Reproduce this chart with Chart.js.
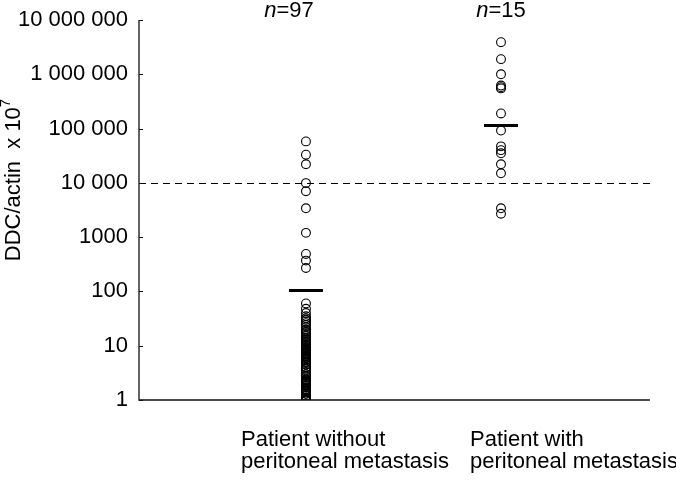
<!DOCTYPE html>
<html>
<head>
<meta charset="utf-8">
<script src="https://cdn.jsdelivr.net/npm/chart.js@4/dist/chart.umd.min.js"></script>
<style>
html,body{margin:0;padding:0;background:#fff;}
#wrap{width:676px;height:481px;position:relative;}
</style>
</head>
<body>
<div id="wrap"><canvas id="dotChart"></canvas></div>
<script>
// groups (x position on the hidden linear axis)
const groupPos=[1,2];
const groupNames=[['Patient without','peritoneal metastasis'],['Patient with','peritoneal metastasis']];
const groupN=['97','15'];

// DDC/actin x 10^7
const withoutMet=[58000,33000,22000,9900,7000,3400,1200,490,370,270,
  60,48,40,35,32,30,28,26,24,22,
  20,19,18,17,16,15,14,13,12.5,12,
  11.5,11,10.5,10,10,9.5,9,9,8.5,8,
  8,7.5,7,7,6.5,6.5,6,6,6,5.8,
  5.5,5.5,5,5,5,4.5,4.5,4,4,3.8,
  3.5,3.3,3,3,2.8,2.6,2.4,2.3,2.3,2.2,
  2.2,2.2,2.1,2.1,2,2,1.9,1.8,1.7,1.6,
  1.5,1.5,1.4,1.4,1.3,1.3,1.2,1.2,1.1,1.1,
  1.05,1.05,1,1,1,1,1];
const withMet=[3900000,1900000,1000000,620000,580000,550000,190000,92000,47000,40000,35000,22000,15000,3400,2700];
const medians=[104,114000];
const cutoff=10000;

const yTickValues=[1,10,100,1000,10000,100000,1000000,10000000];
const yTickLabels=['1','10','100','1000','10 000','100 000','1 000 000','10 000 000'];

const FONT='"Liberation Sans", Arial, Helvetica, sans-serif';

const extras={
  id:'extras',
  afterDatasetsDraw(chart){
    const c=chart.ctx, a=chart.chartArea, y=chart.scales.y, x=chart.scales.x;
    c.save();
    // dashed cut-off
    c.strokeStyle='#000';c.lineWidth=1;c.setLineDash([7,5]);
    const yc=Math.round(y.getPixelForValue(cutoff))+0.5;
    c.beginPath();c.moveTo(a.left,yc);c.lineTo(a.right,yc);c.stroke();
    c.setLineDash([]);
    // axes
    c.lineWidth=1.3;c.strokeStyle='#111';
    c.beginPath();c.moveTo(a.left,a.top);c.lineTo(a.left,a.bottom);c.lineTo(a.right,a.bottom);c.stroke();
    // inward ticks
    c.lineWidth=1;
    yTickValues.forEach(v=>{const p=Math.round(y.getPixelForValue(v))+0.5;c.beginPath();c.moveTo(a.left,p);c.lineTo(a.left+4,p);c.stroke();});
    // n labels
    c.fillStyle='#000';c.textBaseline='alphabetic';
    const nOff=[-17,0];
    groupPos.forEach((g,i)=>{
      const cx=x.getPixelForValue(g)+nOff[i];
      c.font='italic 22px '+FONT;const w1=c.measureText('n').width;
      c.font='22px '+FONT;const w2=c.measureText('='+groupN[i]).width;
      const sx=cx-(w1+w2)/2;
      c.font='italic 22px '+FONT;c.textAlign='left';c.fillText('n',sx,17);
      c.font='22px '+FONT;c.fillText('='+groupN[i],sx+w1,17);
    });
    // group labels
    const labelLeft=[241,470];
    c.font='22px '+FONT;c.textAlign='left';
    groupNames.forEach((lines,i)=>{lines.forEach((t,j)=>c.fillText(t,labelLeft[i],446+j*22));});
    // y title with superscript
    c.translate(20,180);c.rotate(-Math.PI/2);
    const main='DDC/actin  x 10';
    c.font='22px '+FONT;const mw=c.measureText(main).width;
    c.font='15px '+FONT;const sw=c.measureText('7').width;
    const st=-(mw+sw)/2;
    c.font='22px '+FONT;c.fillText(main,st,0);
    c.font='15px '+FONT;c.fillText('7',st+mw,-10);
    c.restore();
  }
};

const circle={pointStyle:'circle',pointRadius:4.4,pointHoverRadius:4.4,pointBorderWidth:1.1,pointBorderColor:'#000',pointBackgroundColor:'rgba(0,0,0,0)',showLine:false};

new Chart(document.getElementById('dotChart'),{
  type:'scatter',
  data:{datasets:[
    Object.assign({label:'without',data:withoutMet.map(v=>({x:groupPos[0],y:v}))},circle),
    Object.assign({label:'with',data:withMet.map(v=>({x:groupPos[1],y:v}))},circle),
    {label:'median',data:medians.map((v,i)=>({x:groupPos[i],y:v})),pointStyle:'line',pointRadius:17,pointHoverRadius:17,pointBorderWidth:3,pointBorderColor:'#000',showLine:false}
  ]},
  options:{
    responsive:true,maintainAspectRatio:false,animation:false,
    layout:{padding:{left:0,right:26,top:18,bottom:81}},
    plugins:{legend:{display:false},tooltip:{enabled:false}},
    scales:{
      x:{type:'linear',display:false,min:0.144,max:2.764},
      y:{type:'logarithmic',min:1,max:10000000,
        afterBuildTicks(s){s.ticks=yTickValues.map(v=>({value:v}));},
        afterFit(s){s.width=139;s.paddingTop=0;s.paddingBottom=0;},
        grid:{display:false,drawTicks:false},
        border:{display:false},
        ticks:{padding:11,color:'#000',font:{family:FONT,size:22},
          callback:(v)=>{const i=yTickValues.indexOf(v);return i>=0?yTickLabels[i]:'';}}
      }
    }
  },
  plugins:[extras]
});
</script>
</body>
</html>
